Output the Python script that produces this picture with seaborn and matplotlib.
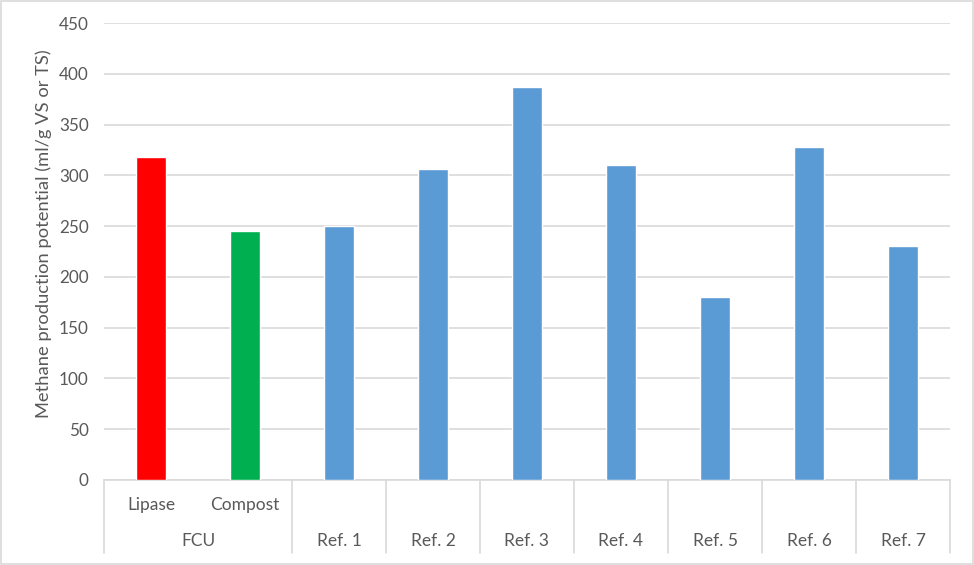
import matplotlib
matplotlib.use("Agg")
import matplotlib.pyplot as plt
import matplotlib.transforms as mtransforms
from matplotlib.patches import Rectangle
import seaborn as sns
import pandas as pd

# data
categories = ["Lipase", "Compost", "Ref. 1", "Ref. 2", "Ref. 3",
              "Ref. 4", "Ref. 5", "Ref. 6", "Ref. 7"]
values = [318, 245, 250, 306, 387, 310, 180, 328, 230]
bar_colors = ["#FF0000", "#00B050"] + ["#5B9BD5"] * 7
inner_labels = ["Lipase", "Compost"]
group_labels = ["FCU", "Ref. 1", "Ref. 2", "Ref. 3", "Ref. 4",
                "Ref. 5", "Ref. 6", "Ref. 7"]
group_spans = [(0, 1), (2, 2), (3, 3), (4, 4), (5, 5), (6, 6), (7, 7), (8, 8)]
y_ticks = list(range(0, 451, 50))

df = pd.DataFrame({"cat": categories, "val": values})

sns.set_style("white")
plt.rcParams["font.family"] = ["Lato", "DejaVu Sans"]
text_col = "#595959"
grid_col = "#D9D9D9"

fig = plt.figure(figsize=(9.74, 5.65), dpi=100)
ax = fig.add_axes([104 / 974, 1 - 480 / 565, 846 / 974, 457 / 565])

sns.barplot(data=df, x="cat", y="val", hue="cat", palette=bar_colors,
            legend=False, width=0.32, saturation=1, ax=ax, zorder=3)

ax.set_xlim(-0.5, len(categories) - 0.5)
ax.set_ylim(0, 450)
ax.set_yticks(y_ticks)
ax.set_yticklabels([str(t) for t in y_ticks], fontsize=12.3, color=text_col)
ax.tick_params(axis="y", length=0, pad=11)
ax.set_xticks([])
ax.set_xlabel("")
ax.grid(axis="y", color=grid_col, linewidth=1.2, zorder=0)
for s in ["top", "right", "left"]:
    ax.spines[s].set_visible(False)
ax.spines["bottom"].set_color(grid_col)
ax.spines["bottom"].set_linewidth(1.2)

ax.set_ylabel("Methane production potential (ml/g VS or TS)",
              fontsize=13.2, color=text_col)
ax.yaxis.set_label_coords(-0.062, 0.54)

# two-level category axis
trans = mtransforms.blended_transform_factory(ax.transData, ax.transAxes)
for i, lab in enumerate(inner_labels):
    ax.text(i, -0.0547, lab, transform=trans, ha="center", va="center",
            fontsize=12.5, color=text_col)
for lab, (a, b) in zip(group_labels, group_spans):
    ax.text((a + b) / 2, -0.1335, lab, transform=trans, ha="center",
            va="center", fontsize=12.5, color=text_col)
bounds = [-0.5] + [b + 0.5 for _, b in group_spans]
for xb in bounds:
    ax.plot([xb, xb], [0, -0.160], transform=trans, color=grid_col,
            linewidth=1.2, clip_on=False)

# light border round the chart area
fig.patches.append(Rectangle((0.001, 0.002), 0.998, 0.996,
                             transform=fig.transFigure, fill=False,
                             edgecolor=grid_col, linewidth=1.2))

fig.savefig("out.png", dpi=100)
